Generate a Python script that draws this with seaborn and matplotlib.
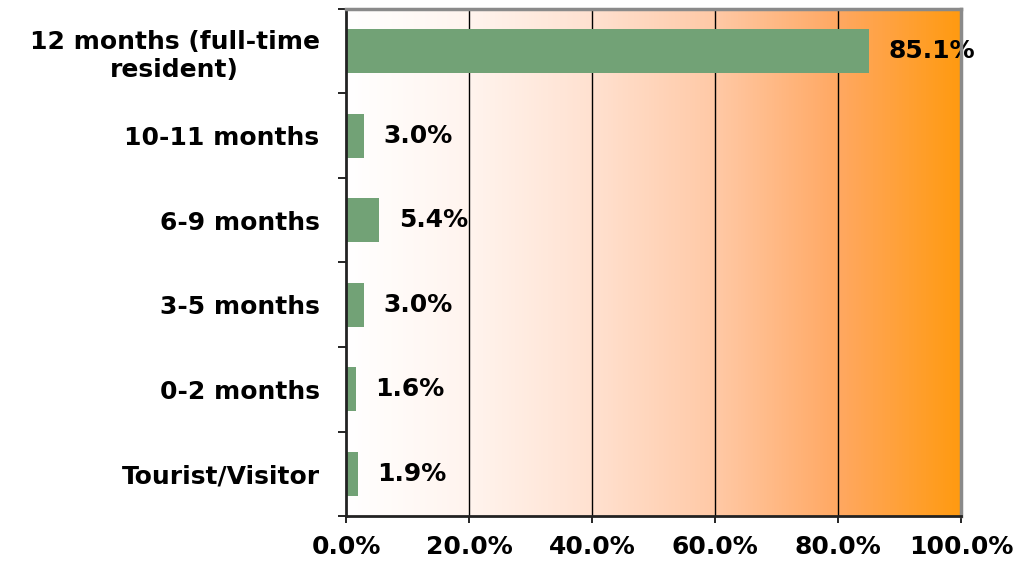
import numpy as np
import pandas as pd
import matplotlib
matplotlib.use("Agg")
import matplotlib.pyplot as plt
import seaborn as sns
from matplotlib.colors import LinearSegmentedColormap

# data
categories = ["12 months (full-time\nresident)", "10-11 months", "6-9 months",
              "3-5 months", "0-2 months", "Tourist/Visitor"]
values = [85.1, 3.0, 5.4, 3.0, 1.6, 1.9]
xticks = [0, 20, 40, 60, 80, 100]

df = pd.DataFrame({"category": categories, "pct": values})

sns.set_style("white")
plt.rcParams["font.family"] = ["DejaVu Sans"]
plt.rcParams["font.weight"] = "bold"

fig = plt.figure(figsize=(10.23, 5.61), dpi=100)
ax = fig.add_axes([0.3382, 0.0802, 0.6012, 0.9038])

# background gradient white -> orange
bg = LinearSegmentedColormap.from_list("bg", [
    (0.0, "#ffffff"), (0.2, "#fff4ee"), (0.4, "#ffe1d0"),
    (0.6, "#ffc9a6"), (0.8, "#ffa862"), (1.0, "#ff9a10")])
grad = np.linspace(0, 1, 512).reshape(1, -1)
ax.imshow(grad, cmap=bg, aspect="auto", extent=[0, 100, 5.5, -0.5], zorder=0)

sns.barplot(data=df, y="category", x="pct", orient="h", color="#72a276",
            saturation=1, width=0.52, linewidth=0, ax=ax, zorder=3)

ax.set_xlim(0, 100)
ax.set_ylim(5.5, -0.5)
ax.set_xlabel("")
ax.set_ylabel("")

for x in xticks[1:-1]:
    ax.axvline(x, color="black", lw=1, zorder=1)

fs = 18
for i, v in enumerate(values):
    ax.annotate(f"{v:.1f}%", xy=(v, i), xytext=(14, 0), textcoords="offset points",
                ha="left", va="center", fontsize=fs, fontweight="bold", color="black",
                zorder=5, annotation_clip=False)

ax.set_xticks(xticks)
ax.set_xticklabels([f"{t:.1f}%" for t in xticks], fontsize=fs, fontweight="bold",
                   color="black")
ax.set_yticks(range(len(categories)))
ax.set_yticklabels(categories, fontsize=fs, fontweight="bold", ha="right",
                   multialignment="center", color="black", linespacing=1.25)
ax.set_yticks(np.arange(-0.5, len(categories)), minor=True)
ax.tick_params(axis="y", which="major", length=0, pad=19)
ax.tick_params(axis="y", which="minor", length=6, width=1.2, color="black", direction="out", left=True)
ax.tick_params(axis="x", which="major", length=5, width=1.2, color="black", direction="out",
               bottom=True, pad=9)

for s in ["left", "bottom"]:
    ax.spines[s].set_color("#222222")
    ax.spines[s].set_linewidth(2)
for s in ["top", "right"]:
    ax.spines[s].set_color("#8a8a8a")
    ax.spines[s].set_linewidth(2.5)
for s in ax.spines.values():
    s.set_visible(True)
    s.set_zorder(6)

fig.savefig("out.png", dpi=100)
